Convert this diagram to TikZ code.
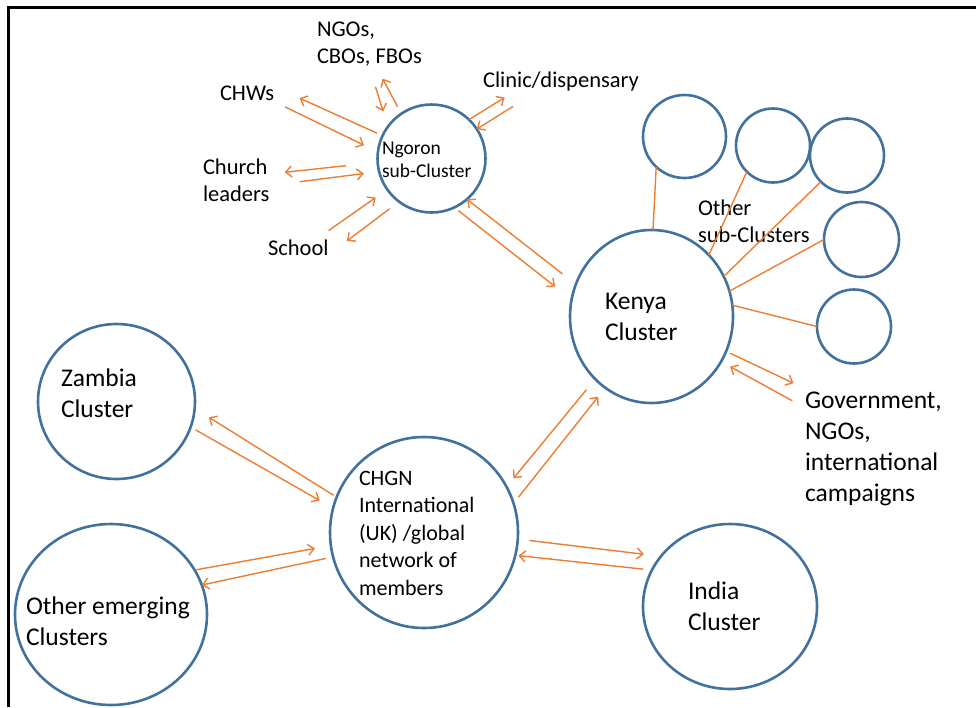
\documentclass[tikz,border=0pt]{standalone}
\usepackage{fontspec}
\setmainfont{Carlito}
\usepackage{tikz}
\usetikzlibrary{arrows.meta,shapes.geometric}
\definecolor{cblue}{HTML}{41719C}
\definecolor{corange}{HTML}{ED7D31}

\begin{document}
\begin{tikzpicture}[x=1pt,y=-1pt,>={Straight Barb[length=6pt,width=11pt]},
	clus/.style={draw=cblue,line width=2.6pt,ellipse,inner sep=0pt,outer sep=0pt},
	sub/.style={draw=cblue,line width=2.6pt,circle,inner sep=0pt,outer sep=0pt},
	lbl/.style={font=\fontsize{22.5}{27}\selectfont,inner sep=0pt,outer sep=0pt,align=left,anchor=base west},
	big/.style={font=\fontsize{25.5}{30.7}\selectfont,inner sep=0pt,outer sep=0pt,align=left,anchor=base west},
	arr/.style={->,draw=corange,line width=1.4pt},
	tie/.style={draw=corange,line width=1.4pt}]
		\useasboundingbox (0,0) rectangle (976,707);
		\draw[line width=2.8pt] (8.5,707) -- (8.5,7.5) -- (976,7.5);
		% clusters
		\node[clus,minimum width=108,minimum height=108] (ngoron) at (431.5,158.5) {};
		\node[clus,minimum width=163,minimum height=173] (kenya) at (651.5,316.5) {};
		\node[clus,minimum width=188,minimum height=191] (chgn) at (424,532.5) {};
		\node[clus,minimum width=174,minimum height=165] (india) at (730,606.5) {};
		\node[clus,minimum width=157,minimum height=155] (zambia) at (116.5,401.5) {};
		\node[clus,minimum width=192,minimum height=181] (others) at (111,614.5) {};
		\node[sub,minimum size=83] (s1) at (684.5,136.5) {};
		\node[sub,minimum size=74] (s2) at (773,145.5) {};
		\node[sub,minimum size=74] (s3) at (847,155.5) {};
		\node[sub,minimum size=75] (s4) at (861.5,239.5) {};
		\node[sub,minimum size=74] (s5) at (854,326.5) {};
		% texts (base = last line)
		\node[lbl,font=\fontsize{19.5}{23}\selectfont] (ngorontxt) at (382,177) {Ngoron\\sub-Cluster};
		\node[big] (kenyatxt) at (605,340) {Kenya\\Cluster};
		\node[big] (zambiatxt) at (61,417) {Zambia\\Cluster};
		\node[big] (otherstxt) at (26,645) {Other emerging\\Clusters};
		\node[big] (indiatxt) at (688,630) {India\\Cluster};
		\node[lbl,font=\fontsize{22}{27.5}\selectfont] (chgntxt) at (359,595) {CHGN\\International\\(UK) /global\\network of\\members};
		\node[lbl] (subtxt) at (698,242) {Other\\sub-Clusters};
		\node[lbl] (chws) at (220,100) {CHWs};
		\node[lbl] (ngos) at (317,63) {NGOs,\\CBOs, FBOs};
		\node[lbl] (clinic) at (483,87) {Clinic/dispensary};
		\node[lbl] (church) at (203,201) {Church\\leaders};
		\node[lbl] (school) at (268,255) {School};
		\node[big] (gov) at (805,501) {Government,\\NGOs,\\international\\campaigns};
		% sub-Cluster links
		\draw[tie] (kenya.89.7) -- (s1.227);
		\draw[tie] (kenya.47) -- (s2.225.5);
		\draw[tie] (kenya.29.7) -- (s3.225.5);
		\draw[tie] (kenya.18.9) -- (s4.180);
		\draw[tie] (kenya.8) -- (s5.180);
		% Ngoron arrows
		\draw[arr,shorten <=6pt,shorten >=28pt] (ngoron.155) -- (chws.13.3);
		\draw[arr,shorten <=15.4pt,shorten >=15.4pt] (chws.-17.8) -- (ngoron.173.9);
		\draw[arr,shorten <=8pt,shorten >=14.5pt] (ngoron.124.9) -- (ngos.-74.9);
		\draw[arr,shorten <=21.8pt,shorten >=16pt] (ngos.-91) -- (ngoron.144.9);
		\draw[arr,shorten >=13pt] (ngoron.46.5) -- (clinic.192.7);
		\draw[arr,shorten <=29.7pt] (clinic.203.7) -- (ngoron.33);
		\draw[arr,shorten <=31.8pt,shorten >=15.3pt] (ngoron.184.6) -- (church.10.2);
		\draw[arr,shorten <=30.4pt,shorten >=15.4pt] (church.-10.7) -- (ngoron.194.6);
		\draw[arr,shorten <=15.4pt,shorten >=14.1pt] (school.24.5) -- (ngoron.215.6);
		\draw[arr,shorten <=11.8pt,shorten >=22.9pt] (ngoron.233.4) -- (school.-14.6);
		\draw[arr,shorten <=17pt] (kenya.157.9) -- (ngoron.-49.9);
		\draw[arr,shorten <=5.2pt,shorten >=21pt] (ngoron.-65.1) -- (kenya.168.3);
		% Kenya and CHGN arrows
		\draw[arr,shorten <=4.4pt,shorten >=21.4pt] (kenya.-25.1) -- (gov.137.1);
		\draw[arr,shorten <=14.5pt,shorten >=10.3pt] (gov.149.4) -- (kenya.-33);
		\draw[arr,shorten <=13.8pt,shorten >=10.8pt] (kenya.228.3) -- (chgn.29.1);
		\draw[arr,shorten <=7.9pt,shorten >=11.4pt] (chgn.18.3) -- (kenya.237.1);
		\draw[arr,shorten <=11.7pt,shorten >=17.2pt] (chgn.-4.3) -- (india.144.7);
		\draw[arr,shorten <=8.6pt,shorten >=3.1pt] (india.155.1) -- (chgn.-14.3);
		\draw[arr,shorten <=3.6pt,shorten >=16.7pt] (chgn.158.4) -- (zambia.-5.1);
		\draw[arr,shorten <=5.8pt,shorten >=15.5pt] (zambia.-19.7) -- (chgn.165.8);
		\draw[arr,shorten <=1pt,shorten >=16.2pt] (others.28.4) -- (chgn.188.4);
		\draw[arr,shorten <=7.4pt] (chgn.195.4) -- (others.18.1);
\end{tikzpicture}
\end{document}
